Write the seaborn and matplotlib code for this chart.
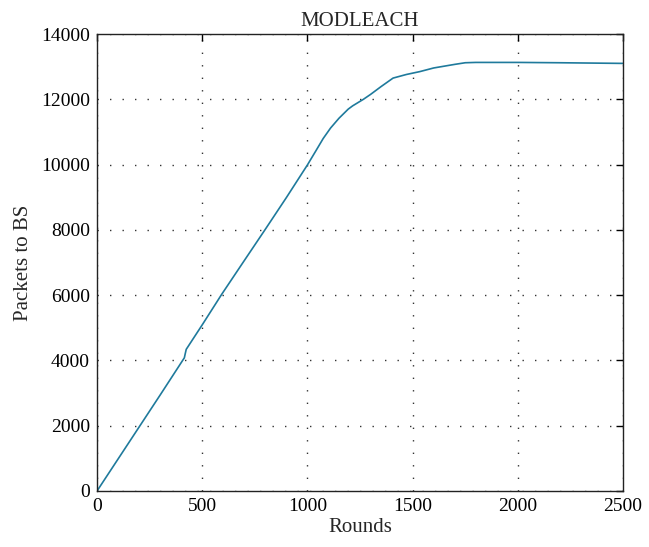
import numpy as np
import pandas as pd
import matplotlib
matplotlib.use("Agg")
import matplotlib.pyplot as plt
import seaborn as sns

rounds = [0, 100, 200, 300, 415, 419, 424, 500, 593, 700, 798, 900, 1000, 1040, 1075, 1110, 1150, 1194, 1215, 1266, 1300, 1350, 1407, 1470, 1535, 1600, 1700, 1750, 1800, 2000, 2200, 2500]
packets = [0, 980, 1960, 2940, 4080, 4200, 4340, 5090, 6030, 7060, 8000, 8990, 9990, 10420, 10800, 11120, 11420, 11700, 11800, 12000, 12150, 12390, 12650, 12760, 12850, 12960, 13070, 13120, 13130, 13130, 13120, 13100]

title = "MODLEACH"
xlabel = "Rounds"
ylabel = "Packets to BS"
xticks = [0, 500, 1000, 1500, 2000, 2500]
yticks = [0, 2000, 4000, 6000, 8000, 10000, 12000, 14000]

sns.set_style("white")
plt.rcParams['font.family'] = ['Liberation Serif', 'DejaVu Serif']

df = pd.DataFrame({"Rounds": rounds, "Packets": packets})

fig = plt.figure(figsize=(6.49, 5.47), dpi=100)
ax = fig.add_axes([0.1495, 0.1024, 0.8105, 0.8354])
sns.lineplot(data=df, x="Rounds", y="Packets", ax=ax, color="#1f7a9c", linewidth=1.2)

ax.set_xlim(0, 2500)
ax.set_ylim(0, 14000)
ax.set_xticks(xticks)
ax.set_yticks(yticks)
ax.set_xticklabels([str(t) for t in xticks], fontsize=14)
ax.set_yticklabels([str(t) for t in yticks], fontsize=14)
ax.set_xlabel(xlabel, fontsize=15, labelpad=2)
ax.set_ylabel(ylabel, fontsize=15, labelpad=6)
ax.set_title(title, fontsize=15, pad=6)

ax.grid(True, color="#333333", linestyle=(0, (1, 8)), linewidth=1)
ax.tick_params(direction="in", top=True, right=True, length=5, width=1, colors="black", pad=5)
for s in ax.spines.values():
    s.set_color("#222222")
    s.set_linewidth(1)

fig.savefig("out.png", dpi=100)
